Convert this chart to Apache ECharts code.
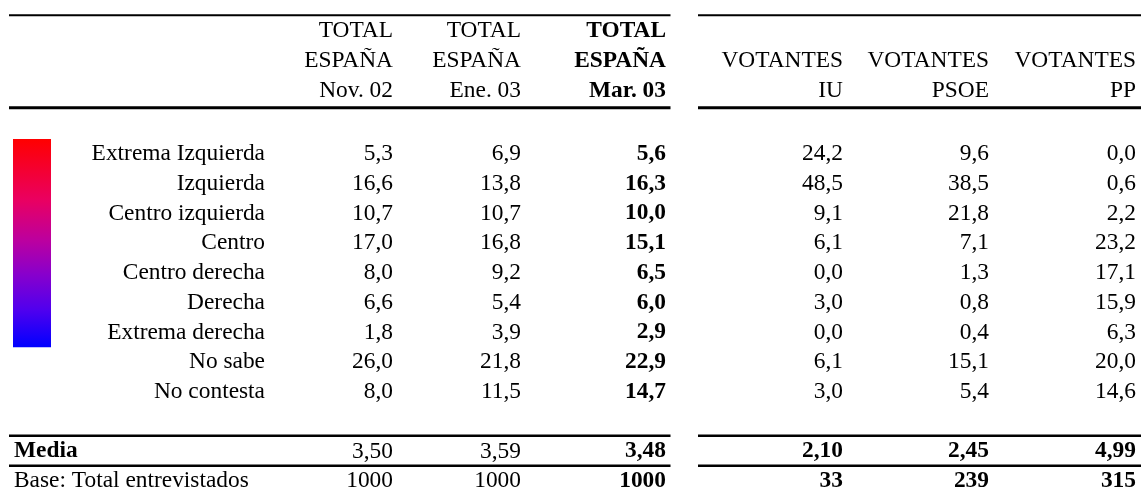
<!DOCTYPE html>
<html><head><meta charset="utf-8">
<script src="https://cdn.jsdelivr.net/npm/echarts@6/dist/echarts.min.js"></script>
<style>html,body{margin:0;padding:0;background:#fff}#c{width:1142px;height:496px}</style>
</head><body><div id="c"></div>
<script>
// ---- data ----
const categories = ['Extrema Izquierda','Izquierda','Centro izquierda','Centro','Centro derecha','Derecha','Extrema derecha','No sabe','No contesta'];
const nov02 = [5.3,16.6,10.7,17.0,8.0,6.6,1.8,26.0,8.0];
const ene03 = [6.9,13.8,10.7,16.8,9.2,5.4,3.9,21.8,11.5];
const mar03 = [5.6,16.3,10.0,15.1,6.5,6.0,2.9,22.9,14.7];
const votIU = [24.2,48.5,9.1,6.1,0.0,3.0,0.0,6.1,3.0];
const votPSOE = [9.6,38.5,21.8,7.1,1.3,0.8,0.4,15.1,5.4];
const votPP = [0.0,0.6,2.2,23.2,17.1,15.9,6.3,20.0,14.6];
const mediaValues = [3.50,3.59,3.48,2.10,2.45,4.99];
const baseValues = [1000,1000,1000,33,239,315];
const headerLines = [['TOTAL','ESPAÑA','Nov. 02'],['TOTAL','ESPAÑA','Ene. 03'],['TOTAL','ESPAÑA','Mar. 03'],['','VOTANTES','IU'],['','VOTANTES','PSOE'],['','VOTANTES','PP']];
const mediaLabel = 'Media';
const baseLabel = 'Base: Total entrevistados';

// ---- layout / style ----
const FONT = '"Liberation Serif","Times New Roman",serif';
const FS = 23.4;
const COL_RIGHT = [393, 521, 666, 843, 989, 1136];
const LABEL_RIGHT = 265;
const ROW_LABEL_LEFT = 14;
const series = [nov02, ene03, mar03, votIU, votPSOE, votPP];
const fmt = (v, d) => v.toFixed(d).replace('.', ',');

// body cells
const bodyCells = [];
categories.forEach((name, i) => {
  bodyCells.push({x: LABEL_RIGHT, row: i, text: name, align: 'right', bold: false});
  series.forEach((s, c) => bodyCells.push({x: COL_RIGHT[c], row: i, text: fmt(s[i], 1), align: 'right', bold: c === 2}));
});
const mediaRow = categories.length + 1, baseRow = categories.length + 2;
bodyCells.push({x: ROW_LABEL_LEFT, row: mediaRow, text: mediaLabel, align: 'left', bold: true});
mediaValues.forEach((v, c) => bodyCells.push({x: COL_RIGHT[c], row: mediaRow, text: fmt(v, 2), align: 'right', bold: c >= 2}));
bodyCells.push({x: ROW_LABEL_LEFT, row: baseRow, text: baseLabel, align: 'left', bold: false});
baseValues.forEach((v, c) => bodyCells.push({x: COL_RIGHT[c], row: baseRow, text: String(v), align: 'right', bold: c >= 2}));

// header cells
const headerCells = [];
headerLines.forEach((lines, c) => lines.forEach((t, l) => { if (t) headerCells.push({x: COL_RIGHT[c], row: l, text: t, align: 'right', bold: c === 2}); }));

const bodyRows = categories.concat(['', mediaLabel, baseLabel]);

function textRender(cells) {
  return function (params, api) {
    const cell = cells[params.dataIndex];
    const p = api.coord([api.value(0), api.value(1)]);
    return {type: 'text', x: p[0], y: p[1], style: {
      text: cell.text, fill: '#000', font: (cell.bold ? 'bold ' : '') + FS + 'px ' + FONT,
      align: cell.align, verticalAlign: 'middle', textAlign: cell.align, textVerticalAlign: 'middle'}};
  };
}

// rules: [x0, row, x1, edge(-1 top,+1 bottom)], with style per rule
const LEFT_SPAN = [9, 670.5], RIGHT_SPAN = [698, 1141];
const headerRules = [], headerRuleStyle = [];
[LEFT_SPAN, RIGHT_SPAN].forEach(sp => {
  headerRules.push([sp[0], 0, sp[1], -1]); headerRuleStyle.push({w: 2, dy: -0.7});
  headerRules.push([sp[0], 2, sp[1], 1]); headerRuleStyle.push({w: 3, dy: 1.7});
});
const bodyRules = [], bodyRuleStyle = [];
[LEFT_SPAN, RIGHT_SPAN].forEach(sp => {
  bodyRules.push([sp[0], mediaRow, sp[1], -1]); bodyRuleStyle.push({w: 2.5, dy: -0.8});
  bodyRules.push([sp[0], baseRow, sp[1], -1]); bodyRuleStyle.push({w: 2.5, dy: -0.6});
});
function ruleRender(styles) {
  return function (params, api) {
    const st = styles[params.dataIndex];
    const p0 = api.coord([api.value(0), api.value(1)]);
    const p1 = api.coord([api.value(2), api.value(1)]);
    const half = api.size([0, 1])[1] / 2;
    const y = p0[1] + api.value(3) * half + st.dy;
    return {type: 'line', shape: {x1: p0[0], y1: y, x2: p1[0], y2: y}, style: {stroke: '#000', lineWidth: st.w}};
  };
}

const barStops = [
  {offset: 0, color: '#ff0000'}, {offset: 0.29, color: '#ea0060'}, {offset: 0.49, color: '#bb00a0'},
  {offset: 0.65, color: '#8800cc'}, {offset: 0.82, color: '#5000ee'}, {offset: 1, color: '#0000ff'}
];

const chart = echarts.init(document.getElementById('c'), null, {renderer: 'canvas'});
chart.setOption({
  animation: false,
  backgroundColor: '#fff',
  grid: [
    {left: 0, width: 1142, top: 139, height: 360},
    {left: 0, width: 1142, top: 16, height: 90}
  ],
  xAxis: [
    {type: 'value', gridIndex: 0, min: 0, max: 1142, show: false},
    {type: 'value', gridIndex: 1, min: 0, max: 1142, show: false}
  ],
  yAxis: [
    {type: 'category', gridIndex: 0, data: bodyRows, inverse: true, show: false},
    {type: 'category', gridIndex: 1, data: ['l1', 'l2', 'l3'], inverse: true, show: false}
  ],
  series: [
    {type: 'custom', name: 'scaleBar', xAxisIndex: 0, yAxisIndex: 0, clip: false, silent: true,
     data: [[13, 0, 51, 6]],
     renderItem: function (params, api) {
       const half = api.size([0, 1])[1] / 2;
       const a = api.coord([api.value(0), api.value(1)]);
       const b = api.coord([api.value(2), api.value(3)]);
       return {type: 'rect', shape: {x: a[0], y: a[1] - half, width: b[0] - a[0], height: (b[1] + half) - (a[1] - half)},
         style: {fill: new echarts.graphic.LinearGradient(0, 0, 0, 1, barStops)}};
     }},
    {type: 'custom', name: 'body', xAxisIndex: 0, yAxisIndex: 0, clip: false, silent: true,
     data: bodyCells.map(c => [c.x, c.row]), renderItem: textRender(bodyCells)},
    {type: 'custom', name: 'header', xAxisIndex: 1, yAxisIndex: 1, clip: false, silent: true,
     data: headerCells.map(c => [c.x, c.row]), renderItem: textRender(headerCells)},
    {type: 'custom', name: 'headerRules', xAxisIndex: 1, yAxisIndex: 1, clip: false, silent: true,
     data: headerRules, renderItem: ruleRender(headerRuleStyle)},
    {type: 'custom', name: 'bodyRules', xAxisIndex: 0, yAxisIndex: 0, clip: false, silent: true,
     data: bodyRules, renderItem: ruleRender(bodyRuleStyle)}
  ]
});
</script>
</body></html>
